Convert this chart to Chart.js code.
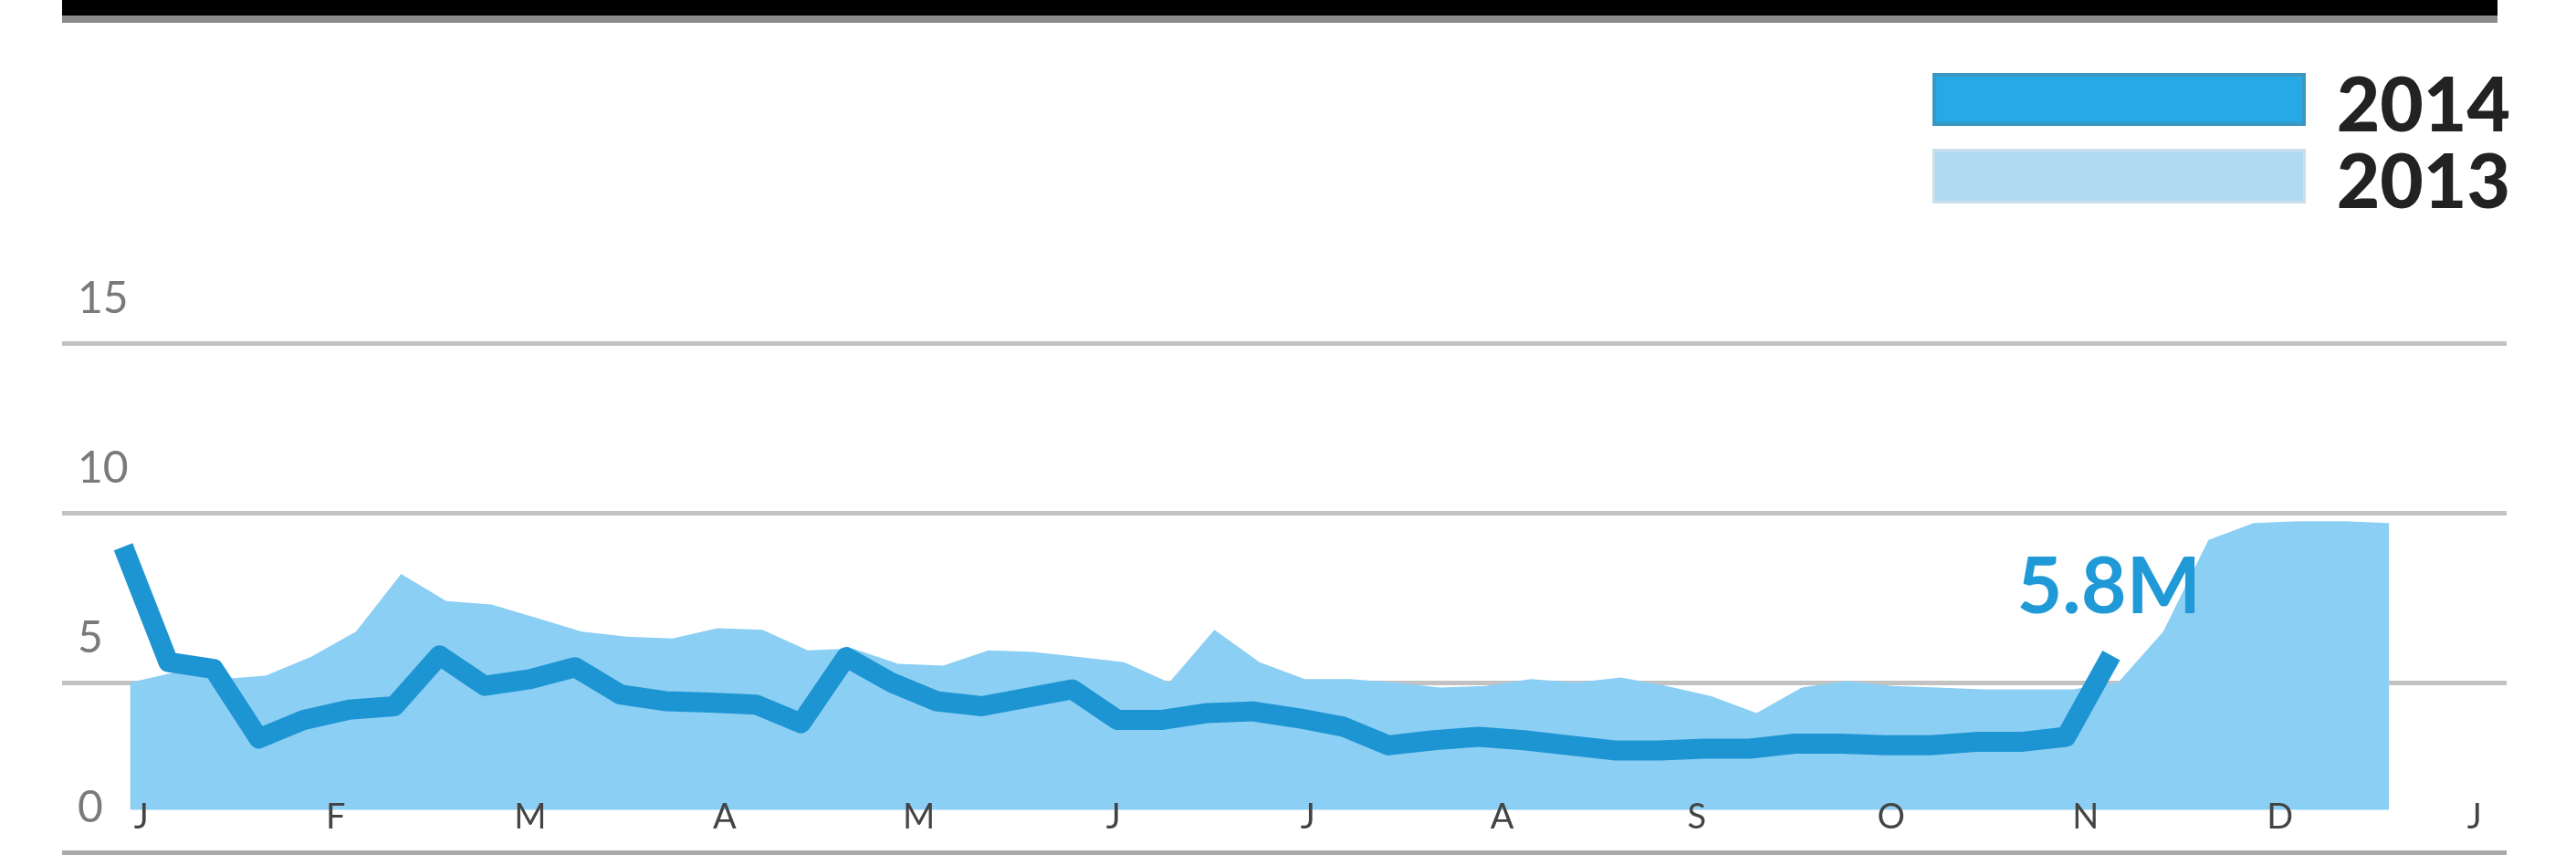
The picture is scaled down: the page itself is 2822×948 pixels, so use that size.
<!DOCTYPE html>
<html>
<head>
<meta charset="utf-8">
<title>2013 vs 2014</title>
<script src="https://cdn.jsdelivr.net/npm/chart.js@4.4.1/dist/chart.umd.min.js"></script>
<style>
  html, body { margin: 0; padding: 0; background: #fff; }
  #wrap { position: relative; width: 2822px; height: 948px; overflow: hidden; }
  #topbar { position: absolute; left: 68px; top: 0; width: 2668px; height: 17px; background: #000; border-bottom: 8px solid #8a8a8a; }
  .swatch { position: absolute; left: 2117px; width: 409px; box-sizing: border-box; }
  .sw2014 { top: 80px; height: 58px; background: #27a9e6; border: 4px solid #3a97bf; }
  .sw2013 { top: 163px; height: 60px; background: #b2d9f2; border: 3px solid #c9dfec; }
  .ltext { position: absolute; right: 72px; font-family: Lato, sans-serif; font-weight: 900; font-size: 82px; line-height: 82px; color: #222; }
</style>
</head>
<body>
<div id="wrap">
  <div id="topbar"></div>
  <div class="swatch sw2014"></div>
  <div class="ltext" style="top:71px">2014</div>
  <div class="swatch sw2013"></div>
  <div class="ltext" style="top:155px">2013</div>
  <canvas id="myChart" width="2822" height="948"></canvas>
</div>
<script>
// weekly values, week 0 = first week of January
const sales2014 = [9.0, 5.6, 5.4, 3.35, 3.9, 4.2, 4.3, 5.8, 4.9, 5.1,
  5.45, 4.65, 4.45, 4.41, 4.35, 3.8, 5.75, 5.0, 4.45, 4.3,
  4.55, 4.8, 3.9, 3.9, 4.1, 4.15, 3.95, 3.7, 3.15, 3.3,
  3.4, 3.3, 3.15, 3.0, 3.0, 3.05, 3.05, 3.2, 3.2, 3.15,
  3.15, 3.25, 3.25, 3.4, 5.8]
const sales2013 = [5.0, 5.3, 5.1, 5.2, 5.75, 6.5, 8.2, 7.4, 7.3, 6.9,
  6.5, 6.35, 6.3, 6.6, 6.55, 5.95, 6.0, 5.55, 5.5, 5.95,
  5.9, 5.75, 5.6, 5.0, 6.55, 5.6, 5.1, 5.1, 5.0, 4.85,
  4.9, 5.1, 5.0, 5.15, 4.9, 4.6, 4.1, 4.85, 5.05, 4.9,
  4.85, 4.8, 4.8, 4.8, 5.0, 6.5, 9.2, 9.7, 9.75, 9.75, 9.7]
const weekShift2013 = 0.15
const monthLabels = ['J', 'F', 'M', 'A', 'M', 'J', 'J', 'A', 'S', 'O', 'N', 'D', 'J']
const yTicks = [0, 5, 10, 15]
const seriesNames = ['2014', '2013']
const lastLabel = '5.8M'

const toPoints = (arr, shift) => arr.map((v, i) => ({x: i + shift, y: v}))

// writes the value of the latest week next to the end of the 2014 line
const endLabel = {
  id: 'endLabel',
  afterDatasetsDraw(chart) {
    const pts = chart.getDatasetMeta(0).data
    const last = pts[pts.length - 1]
    const ctx = chart.ctx
    ctx.save()
    ctx.font = 'bold 86px Lato'
    ctx.fillStyle = '#1f9ad6'
    ctx.textAlign = 'right'
    ctx.textBaseline = 'alphabetic'
    ctx.fillText(lastLabel, last.x + 98, last.y - 46)
    ctx.restore()
  }
}

const ctx = document.getElementById('myChart')
new Chart(ctx, {
  type: 'line',
  data: {
    datasets: [{
      label: seriesNames[0],
      data: toPoints(sales2014, 0),
      borderColor: '#1e95d3',
      borderWidth: 22,
      borderJoinStyle: 'round',
      pointRadius: 0,
      tension: 0,
      fill: false
    }, {
      label: seriesNames[1],
      data: toPoints(sales2013, weekShift2013),
      borderWidth: 0,
      backgroundColor: '#8ccff4',
      pointRadius: 0,
      tension: 0,
      fill: {value: 1.25}
    }]
  },
  plugins: [endLabel],
  options: {
    responsive: false,
    animation: false,
    devicePixelRatio: 1,
    layout: { padding: {top: 376, left: 68, right: 76, bottom: 0} },
    plugins: { legend: {display: false}, tooltip: {enabled: false} },
    scales: {
      x: {
        type: 'linear',
        min: -1.354,
        max: 52.75,
        afterFit: (scale) => {
          scale.height = 14
          scale.paddingLeft = 0
          scale.paddingRight = 0
        },
        afterBuildTicks: (scale) => {
          scale.ticks = monthLabels.map((l, i) => ({value: 0.4 + i * 4.303}))
        },
        grid: {display: false, drawTicks: false},
        border: {display: false},
        ticks: {
          z: 1,
          mirror: true,
          autoSkip: false,
          maxRotation: 0,
          padding: 15,
          color: '#444',
          font: {family: 'Lato', size: 38},
          callback: (value, index) => monthLabels[index]
        }
      },
      y: {
        min: 0,
        max: 15,
        afterFit: (scale) => {
          scale.width = 0
          scale.paddingTop = 0
          scale.paddingBottom = 0
        },
        afterBuildTicks: (scale) => {
          scale.ticks = yTicks.map(v => ({value: v}))
        },
        grid: {
          drawTicks: false,
          lineWidth: 5,
          color: (c) => c.tick && c.tick.value === 0 ? '#a9a9a9' : '#c2c2c2'
        },
        border: {display: false},
        ticks: {
          mirror: true,
          padding: 17,
          labelOffset: -48,
          color: '#7a7a7a',
          font: {family: 'Lato', size: 48}
        }
      }
    }
  }
})
</script>
</body>
</html>
